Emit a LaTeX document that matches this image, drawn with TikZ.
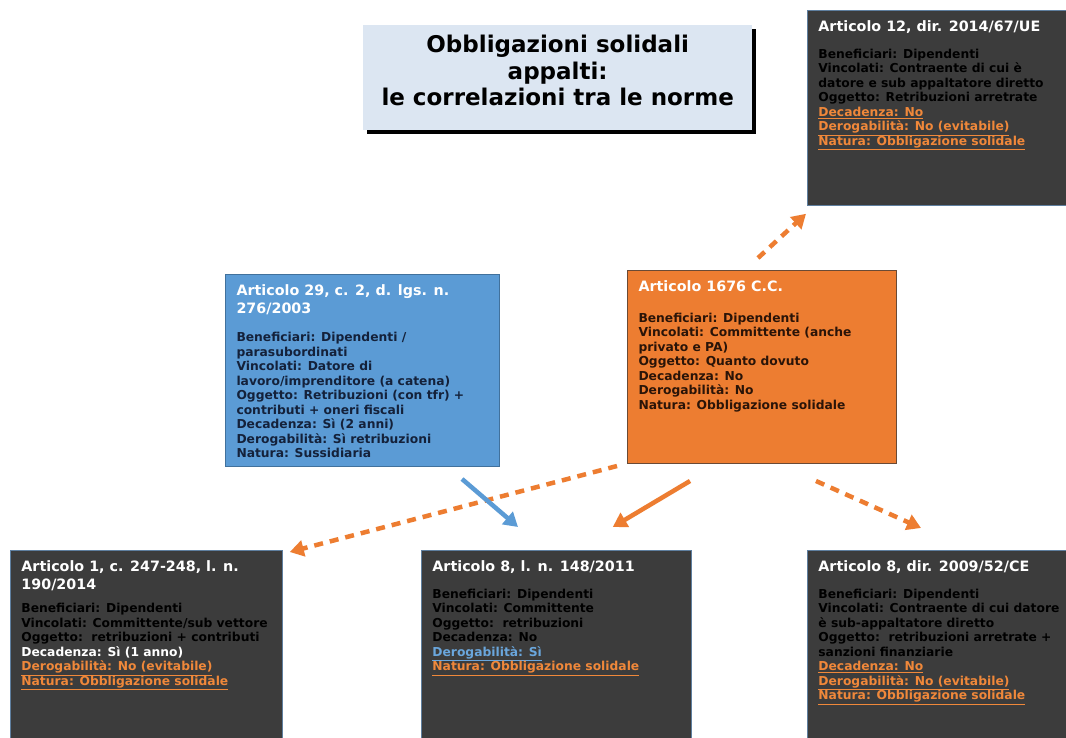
\documentclass[tikz,border=0pt]{standalone}
\usepackage{fontspec}
\setmainfont{DejaVu Sans}
\usepackage{tikz}
\usetikzlibrary{arrows.meta}
\usetikzlibrary{shadows}
\usetikzlibrary{positioning}

\definecolor{slate}{HTML}{3C3C3C}
\definecolor{slateline}{HTML}{5F7F9F}
\definecolor{normblue}{HTML}{5B9BD5}
\definecolor{normblueline}{HTML}{41719C}
\definecolor{normorange}{HTML}{ED7D31}
\definecolor{normorangeline}{HTML}{6A4A35}
\definecolor{titlefill}{HTML}{DCE6F2}
\definecolor{linkorange}{HTML}{F0883A}
\definecolor{linkblue}{HTML}{6AA6DC}
\definecolor{navytext}{HTML}{14213A}
\definecolor{browntext}{HTML}{2A1408}

\newcommand{\hdr}[2][12.5]{{\fontsize{14.3}{18.5}\selectfont\color{white}#2\par}\vspace{#1pt}}
\newcommand{\orng}[1]{{\color{linkorange}\underline{#1}}}
\newcommand{\blu}[1]{{\color{linkblue}\underline{#1}}}

\begin{document}
\begin{tikzpicture}[x=1pt,y=-1pt,
    every node/.style={font=\bfseries},
    normbox/.style={anchor=north west,inner xsep=11pt,inner ysep=10pt,
        align=left,font=\bfseries\fontsize{12.3}{14.5}\selectfont},
    darkbox/.style={normbox,fill=slate,draw=slateline,line width=0.8pt},
    bluebox/.style={normbox,fill=normblue,draw=normblueline,line width=1pt,text=navytext},
    orangebox/.style={normbox,fill=normorange,draw=normorangeline,line width=1pt,text=browntext},
    thick arrow/.style={line width=4.5pt,-{Triangle[length=14pt,width=16pt]}},
    dashed arrow/.style={thick arrow,dash pattern=on 9pt off 7pt}]
    \clip (0,0) rectangle (1066,738);
    \fill[white] (0,0) rectangle (1066,738);

    % title
    \node[anchor=north west,fill=titlefill,inner sep=0pt,
        drop shadow={shadow xshift=4pt,shadow yshift=-4pt,fill=black,opacity=1},
        font=\bfseries\fontsize{23}{26.5}\selectfont] (title) at (363,25)
        {\parbox[t][105pt][t]{389pt}{\centering\vspace*{10pt}%
        Obbligazioni solidali\\appalti:\\le correlazioni tra le norme}};

    % upper row
    \node[darkbox] (art12) at (807,10) {\parbox[t][175pt][t]{245pt}{%
        \hdr{Articolo 12, dir. 2014/67/UE}%
        \color{black}Beneficiari: Dipendenti\\
        Vincolati: Contraente di cui è\\
        datore e sub appaltatore diretto\\
        Oggetto: Retribuzioni arretrate\\
        \orng{Decadenza: No}\\
        \orng{Derogabilità: No (evitabile)}\\
        \orng{Natura: Obbligazione solidale}}};

    \node[bluebox] (art29) at (225,274) {\parbox[t][172pt][t]{252pt}{%
        \hdr[13.5]{Articolo 29, c. 2, d. lgs. n.\\276/2003}%
        Beneficiari: Dipendenti /\\
        parasubordinati\\
        Vincolati: Datore di\\
        lavoro/imprenditore (a catena)\\
        Oggetto: Retribuzioni (con tfr) +\\
        contributi + oneri fiscali\\
        Decadenza: Sì (2 anni)\\
        Derogabilità: Sì retribuzioni\\
        Natura: Sussidiaria}};

    \node[orangebox] (art1676) at (627,270) {\parbox[t][173pt][t]{247pt}{%
        \hdr[16.5]{Articolo 1676 C.C.}%
        Beneficiari: Dipendenti\\
        Vincolati: Committente (anche\\
        privato e PA)\\
        Oggetto: Quanto dovuto\\
        Decadenza: No\\
        Derogabilità: No\\
        Natura: Obbligazione solidale}};

    % lower row
    \node[darkbox] (art1) at (10,550) {\parbox[t][185pt][t]{250pt}{%
        \hdr[8.5]{Articolo 1, c. 247-248, l. n.\\190/2014}%
        \color{black}Beneficiari: Dipendenti\\
        Vincolati: Committente/sub vettore\\
        Oggetto:\ \ retribuzioni + contributi\\
        \textcolor{white}{Decadenza: Sì (1 anno)}\\
        \orng{Derogabilità: No (evitabile)}\\
        \orng{Natura: Obbligazione solidale}}};

    \node[darkbox] (art8l) at (421,550) {\parbox[t][185pt][t]{248pt}{%
        \hdr{Articolo 8, l. n. 148/2011}%
        \color{black}Beneficiari: Dipendenti\\
        Vincolati: Committente\\
        Oggetto:\ \ retribuzioni\\
        Decadenza: No\\
        \blu{Derogabilità: Sì}\\
        \orng{Natura: Obbligazione solidale}}};

    \node[darkbox] (art8d) at (807,550) {\parbox[t][185pt][t]{250pt}{%
        \hdr{Articolo 8, dir. 2009/52/CE}%
        \color{black}Beneficiari: Dipendenti\\
        Vincolati: Contraente di cui datore\\
        è sub-appaltatore diretto\\
        Oggetto:\ \ retribuzioni arretrate +\\
        sanzioni finanziarie\\
        \orng{Decadenza: No}\\
        \orng{Derogabilità: No (evitabile)}\\
        \orng{Natura: Obbligazione solidale}}};

    % connectors
    \draw[dashed arrow,normorange] ([shift={(-4,-12)}]art1676.north)
        -- ([shift={(-1,8)}]art12.south west);
    \draw[dashed arrow,normorange] ([shift={(-10,2)}]art1676.south west)
        -- ([shift={(7,2)}]art1.north east);
    \draw[thick arrow,normblue] ([shift={(-38,12)}]art29.south east)
        -- ([shift={(97,-23)}]art8l.north west);
    \draw[thick arrow,normorange] ([shift={(63,17)}]art1676.south west)
        -- ([shift={(-79,-23)}]art8l.north east);
    \draw[dashed arrow,normorange] ([shift={(-81,17)}]art1676.south east)
        -- ([shift={(114,-22)}]art8d.north west);
\end{tikzpicture}
\end{document}
